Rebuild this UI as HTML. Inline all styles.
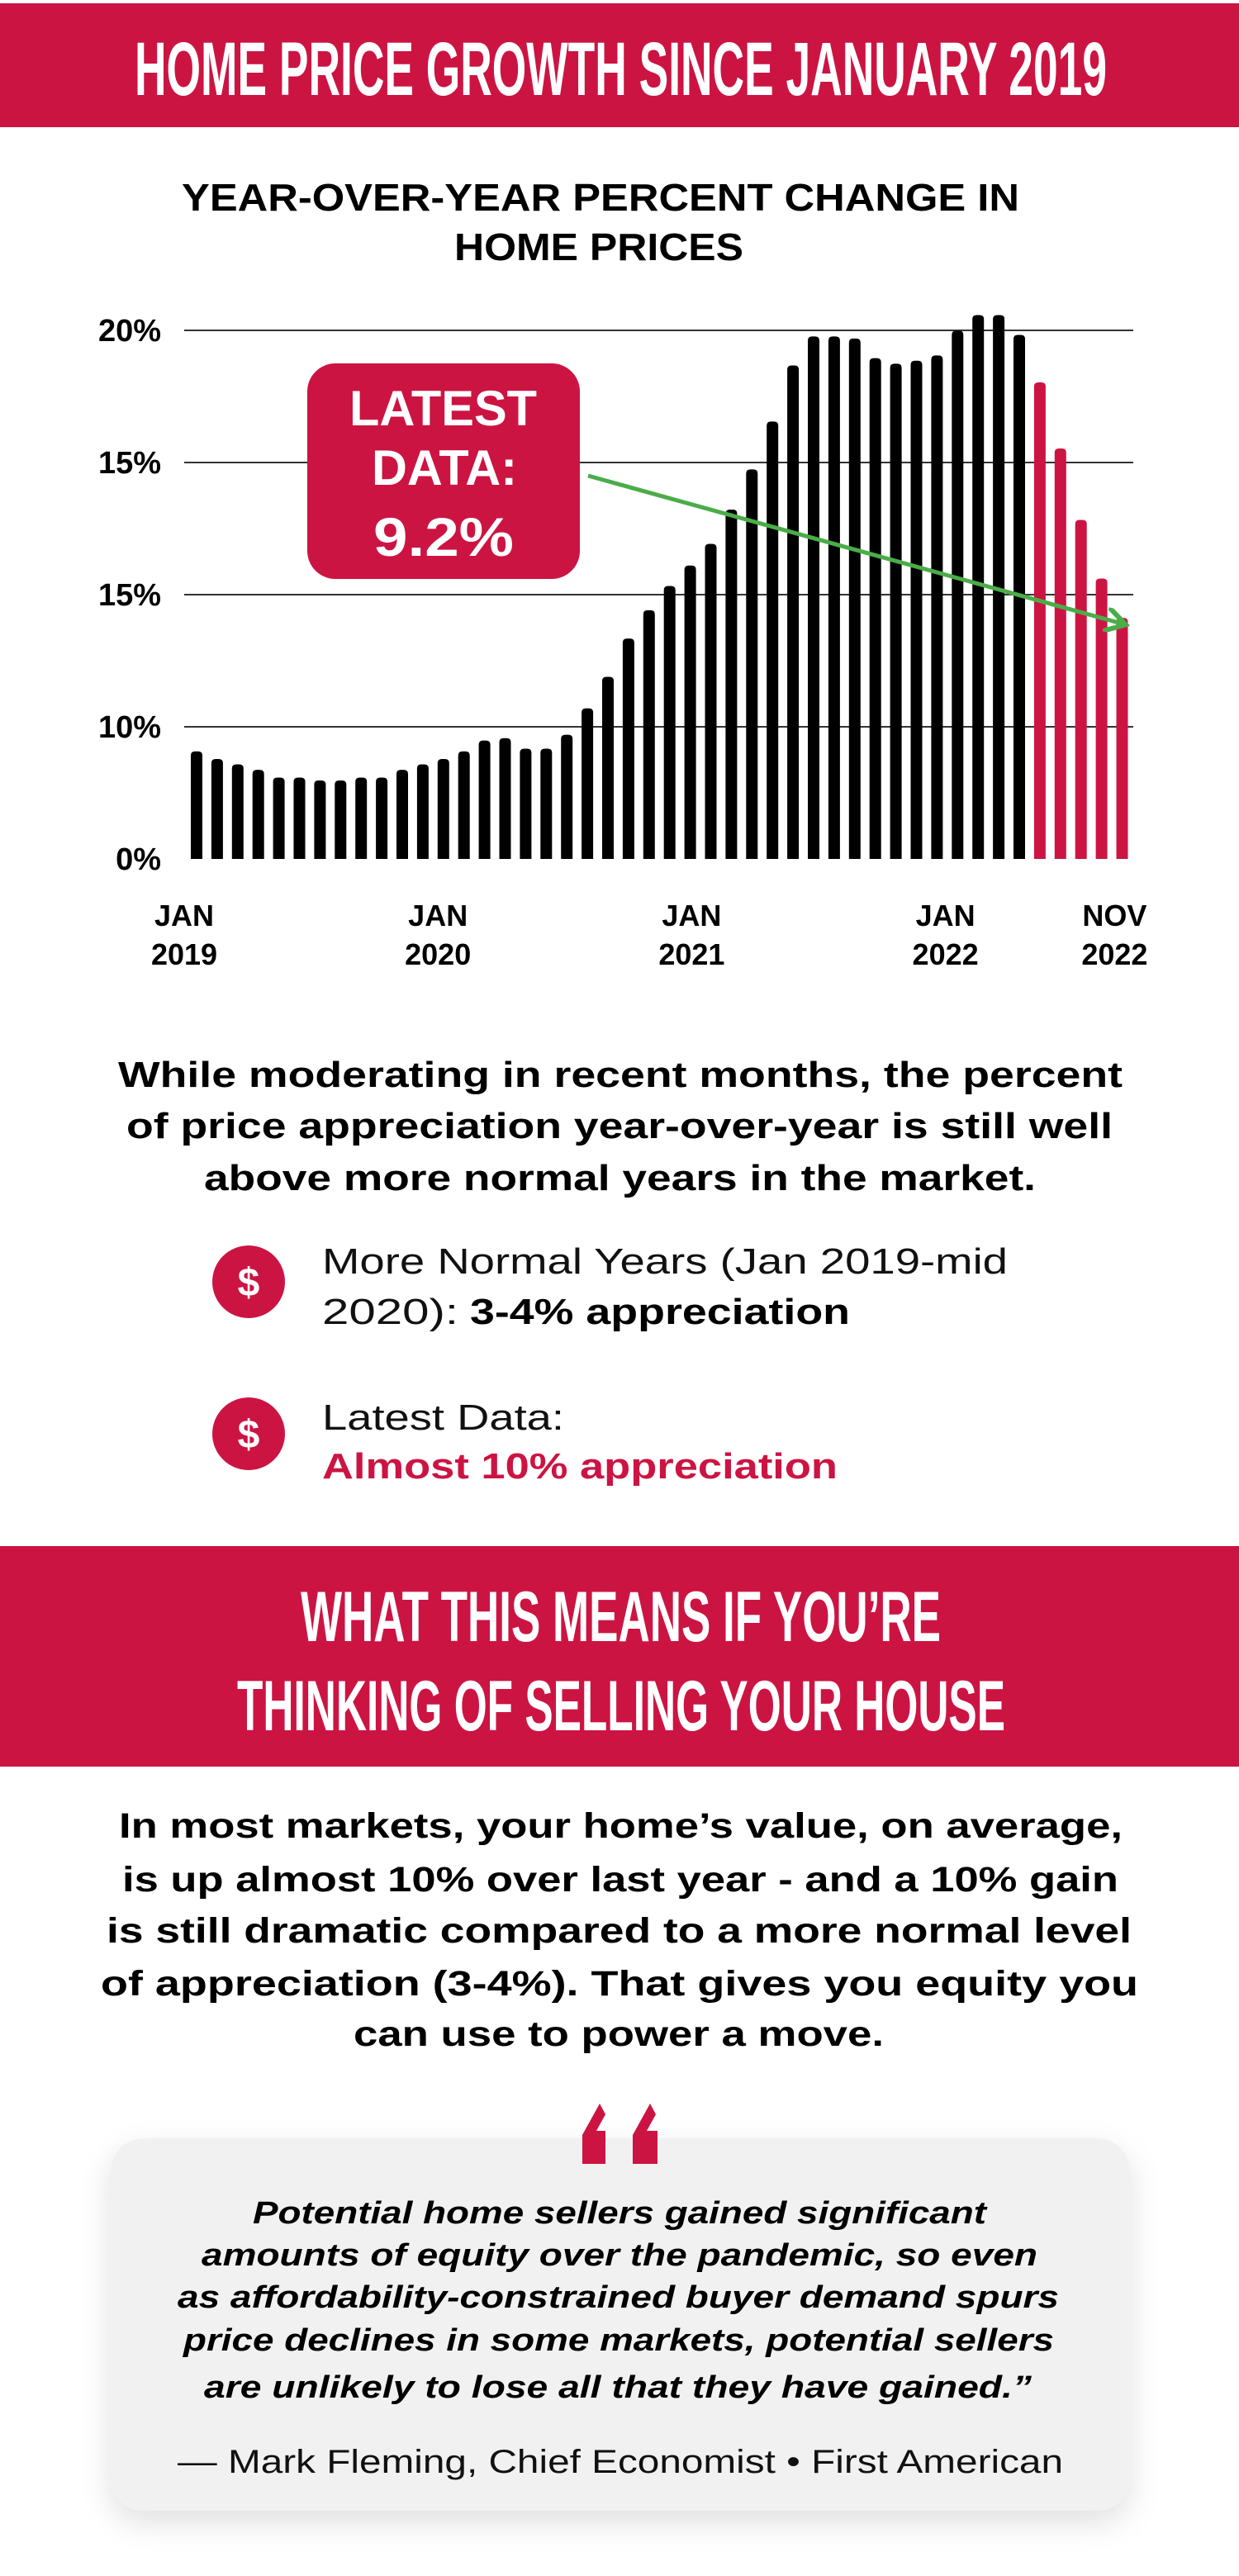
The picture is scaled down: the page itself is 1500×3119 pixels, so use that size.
<!DOCTYPE html>
<html><head><meta charset="utf-8"><style>
html,body{margin:0;padding:0;background:#fff;}
svg{display:block;font-family:"Liberation Sans",sans-serif;}
</style></head><body>
<svg id="page" width="1500" height="3119" viewBox="0 0 1500 3119" xmlns="http://www.w3.org/2000/svg">
<defs>
<filter id="sh" x="-10%" y="-10%" width="120%" height="130%"><feDropShadow dx="0" dy="14" stdDeviation="18" flood-color="#000" flood-opacity="0.12"/></filter>
<marker id="ah" markerWidth="6" markerHeight="6" refX="4" refY="3" orient="auto" markerUnits="strokeWidth"><path d="M0,0 L5,3 L0,6" fill="none" stroke="#4aad48" stroke-width="1.2"/></marker>
</defs>
<rect x="0" y="4" width="1500" height="150" fill="#cc1443"/>
<text x="163" y="115" textLength="1177" lengthAdjust="spacingAndGlyphs" font-size="92" font-weight="bold" fill="#fff">HOME PRICE GROWTH SINCE JANUARY 2019</text>
<text x="220" y="255" textLength="1014" lengthAdjust="spacingAndGlyphs" font-size="46" font-weight="bold" fill="#000">YEAR-OVER-YEAR PERCENT CHANGE IN</text>
<text x="550" y="315" textLength="350" lengthAdjust="spacingAndGlyphs" font-size="46" font-weight="bold" fill="#000">HOME PRICES</text>
<g id="chart"></g>
<g>
<rect x="372" y="440" width="330" height="261" rx="34" fill="#cc1443"/>
<text x="423" y="515" textLength="227" lengthAdjust="spacingAndGlyphs" font-size="60" font-weight="bold" fill="#fff">LATEST</text>
<text x="450" y="587" textLength="176" lengthAdjust="spacingAndGlyphs" font-size="60" font-weight="bold" fill="#fff">DATA:</text>
<text x="452" y="673" textLength="170" lengthAdjust="spacingAndGlyphs" font-size="66" font-weight="bold" fill="#fff">9.2%</text>
</g>
<line x1="712" y1="576" x2="1358" y2="755" stroke="#4aad48" stroke-width="5" marker-end="url(#ah)"/>
<g font-size="44" font-weight="bold" fill="#000">
<text x="143" y="1316" textLength="1216" lengthAdjust="spacingAndGlyphs">While moderating in recent months, the percent</text>
<text x="153" y="1378" textLength="1194" lengthAdjust="spacingAndGlyphs">of price appreciation year-over-year is still well</text>
<text x="247" y="1441" textLength="1007" lengthAdjust="spacingAndGlyphs">above more normal years in the market.</text>
</g>
<g>
<circle cx="301" cy="1552" r="44" fill="#cc1443"/>
<text x="301" y="1569" text-anchor="middle" font-size="48" font-weight="bold" fill="#fff">$</text>
<text x="390" y="1542" textLength="830" lengthAdjust="spacingAndGlyphs" font-size="44" fill="#111">More Normal Years (Jan 2019-mid</text>
<text x="390" y="1603" textLength="165" lengthAdjust="spacingAndGlyphs" font-size="44" fill="#111">2020):</text>
<text x="569" y="1603" textLength="460" lengthAdjust="spacingAndGlyphs" font-size="44" font-weight="bold" fill="#000">3-4% appreciation</text>
</g>
<g>
<circle cx="301" cy="1736" r="44" fill="#cc1443"/>
<text x="301" y="1753" text-anchor="middle" font-size="48" font-weight="bold" fill="#fff">$</text>
<text x="390" y="1731" textLength="293" lengthAdjust="spacingAndGlyphs" font-size="44" fill="#111">Latest Data:</text>
<text x="390" y="1790" textLength="624" lengthAdjust="spacingAndGlyphs" font-size="44" font-weight="bold" fill="#cc1443">Almost 10% appreciation</text>
</g>
<rect x="0" y="1872" width="1500" height="267" fill="#cc1443"/>
<g font-size="86" font-weight="bold" fill="#fff">
<text x="364" y="1987" textLength="775" lengthAdjust="spacingAndGlyphs">WHAT THIS MEANS IF YOU’RE</text>
<text x="287" y="2095" textLength="930" lengthAdjust="spacingAndGlyphs">THINKING OF SELLING YOUR HOUSE</text>
</g>
<g font-size="43" font-weight="bold" fill="#000">
<text x="144" y="2225" textLength="1215" lengthAdjust="spacingAndGlyphs">In most markets, your home’s value, on average,</text>
<text x="148" y="2290" textLength="1206" lengthAdjust="spacingAndGlyphs">is up almost 10% over last year - and a 10% gain</text>
<text x="129" y="2352" textLength="1241" lengthAdjust="spacingAndGlyphs">is still dramatic compared to a more normal level</text>
<text x="122" y="2416" textLength="1256" lengthAdjust="spacingAndGlyphs">of appreciation (3-4%). That gives you equity you</text>
<text x="428" y="2477" textLength="642" lengthAdjust="spacingAndGlyphs">can use to power a move.</text>
</g>
<rect x="134" y="2589" width="1234" height="451" rx="40" fill="#f1f1f1" filter="url(#sh)"/>
<g fill="#cc1443">
<polygon points="726,2547 733,2560 722,2580 733,2580 733,2620 705,2620 705,2585"/>
<polygon points="787,2547 794,2560 783,2580 796,2580 796,2620 766,2620 766,2585"/>
</g>
<g font-size="38" font-weight="bold" font-style="italic" fill="#000">
<text x="306" y="2692" textLength="888" lengthAdjust="spacingAndGlyphs">Potential home sellers gained significant</text>
<text x="244" y="2743" textLength="1012" lengthAdjust="spacingAndGlyphs">amounts of equity over the pandemic, so even</text>
<text x="215" y="2794" textLength="1067" lengthAdjust="spacingAndGlyphs">as affordability-constrained buyer demand spurs</text>
<text x="222" y="2846" textLength="1054" lengthAdjust="spacingAndGlyphs">price declines in some markets, potential sellers</text>
<text x="247" y="2903" textLength="1002" lengthAdjust="spacingAndGlyphs">are unlikely to lose all that they have gained.”</text>
</g>
<text x="215" y="2994" textLength="1072" lengthAdjust="spacingAndGlyphs" font-size="40" fill="#111">— Mark Fleming, Chief Economist • First American</text>
</svg>
<script>
const barValues = [4.07,3.78,3.58,3.37,3.08,3.08,2.97,2.97,3.08,3.08,3.37,3.58,3.78,4.07,4.48,4.57,4.17,4.17,4.70,5.70,6.89,8.34,9.41,10.33,11.10,11.92,13.22,14.74,16.55,18.67,19.77,19.77,19.69,18.95,18.74,18.85,19.05,19.99,20.58,20.58,19.83,18.03,15.53,12.83,10.61,9.12];
const highlightStart = 41;
const gridValues = [5,10,15,20];
const yTickValues = [0,5,10,15,20];
const yTickLabels = ["0%","10%","15%","15%","20%"];
const xTickIndex = [0,12,24,36,44];
const xTickMonth = ["JAN","JAN","JAN","JAN","NOV"];
const xTickYear = ["2019","2020","2021","2022","2022"];

const NS = "http://www.w3.org/2000/svg";
const g = document.getElementById('chart');
const y0 = 1040, unit = 32, x0 = 231, pitch = 24.9, bw = 14;
function yScale(v){ return y0 - v*unit; }
function xScale(i){ return x0 + i*pitch; }
function xLabel(i){ return 223 + i*25.6; }
function mk(tag, attrs){ const e=document.createElementNS(NS,tag); for(const k in attrs) e.setAttribute(k,attrs[k]); g.appendChild(e); return e; }

gridValues.forEach(v=>{
  const l = mk('line',{x1:223,x2:1372,y1:yScale(v),y2:yScale(v),stroke:'#333','stroke-width':2});
  
  
});
barValues.forEach((v,i)=>{
  const top = yScale(v);
  const r = mk('path',{d:`M${xScale(i)},${y0} V${top+5} Q${xScale(i)},${top} ${xScale(i)+5},${top} H${xScale(i)+bw-5} Q${xScale(i)+bw},${top} ${xScale(i)+bw},${top+5} V${y0} Z`,fill:i>=highlightStart?'#cc1443':'#000'});
  
  
});
yTickValues.forEach((v,i)=>{
  const t = mk('text',{x:195,y:yScale(v)+13,'text-anchor':'end','font-size':38,'font-weight':'bold',fill:'#000'});
  t.textContent = yTickLabels[i];
  
  
});
xTickIndex.forEach((idx,i)=>{
  const c = xLabel(idx);
  const a = mk('text',{x:c,y:1121,'text-anchor':'middle','font-size':36,'font-weight':'bold',fill:'#000'});
  a.textContent = xTickMonth[i];
  
  
  const b = mk('text',{x:c,y:1168,'text-anchor':'middle','font-size':36,'font-weight':'bold',fill:'#000'});
  b.textContent = xTickYear[i];
  
  
});
</script>
</body></html>
